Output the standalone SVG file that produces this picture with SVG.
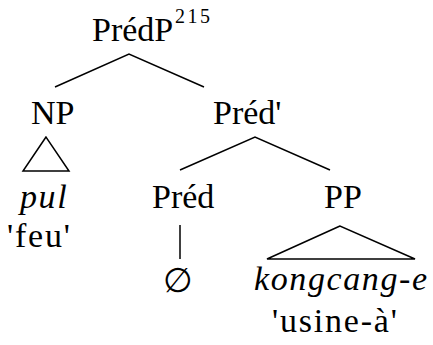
<svg xmlns="http://www.w3.org/2000/svg" width="433" height="345" viewBox="0 0 433 345">
<style>
text{font-family:"Liberation Serif","Times New Roman",serif;font-size:34px;fill:#000}
.it{font-style:italic;letter-spacing:1.6px}
.sp{letter-spacing:1.8px}
.sup{font-size:20px;letter-spacing:2.5px}
.e{fill:none;stroke:#000;stroke-width:1.5}
</style>
<rect width="433" height="345" fill="#fff"/>
<g id="connectors">
<polyline class="e" points="55,87 129,54 204,87"/>
<polyline class="e" points="180,170 255,137 330,170"/>
<polygon class="e" points="46,137 23,171 69,171"/>
<line class="e" x1="180" y1="225" x2="180" y2="259"/>
<polygon class="e" points="340,226 267,259 415,259"/>
</g>
<g id="PredP"><text x="92" y="41">PrédP</text><text class="sup" x="175" y="23">215</text></g>
<g id="NP"><text x="31" y="124">NP</text></g>
<g id="Predbar"><text x="213" y="124">Préd'</text></g>
<g id="pul"><text class="it" x="20" y="208">pul</text><text class="sp" x="7" y="247">'feu'</text></g>
<g id="Pred"><text x="152" y="208">Préd</text></g>
<g id="null"><text x="178" y="292" text-anchor="middle">∅</text></g>
<g id="PP"><text x="324" y="208">PP</text></g>
<g id="kongcang"><text class="it" x="254" y="290">kongcang-e</text><text class="sp" x="272" y="332">'usine-à'</text></g>
</svg>
